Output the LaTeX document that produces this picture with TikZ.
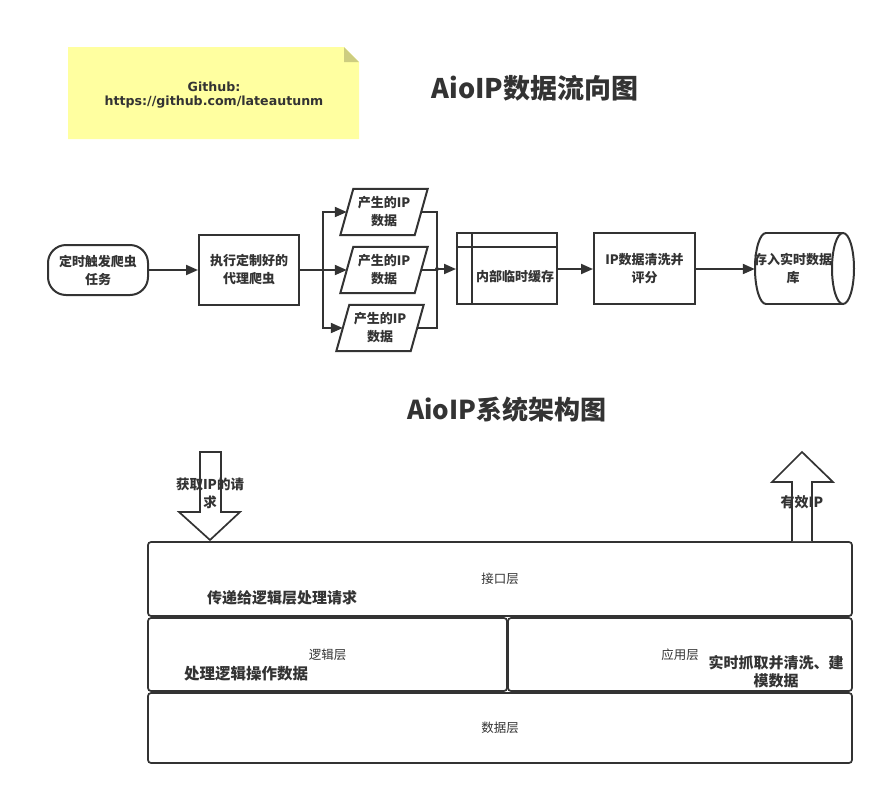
\documentclass[tikz,border=0pt]{standalone}
\usepackage{fontspec}
\setmainfont{Noto Sans CJK SC}
\newfontfamily\notefont{DejaVu Sans}
\usetikzlibrary{arrows.meta,shapes.geometric}
\definecolor{ink}{HTML}{333333}
\definecolor{notefill}{HTML}{FFFFA0}
\definecolor{notefold}{HTML}{CDCD80}
\newcommand{\fsz}[2]{\fontsize{#1}{#2}\selectfont}
\newcommand{\paraoutline}[1]{\draw[ink, line width=2pt, line join=miter] ([xshift=-6.5pt]#1.south west) -- ([xshift=-6.5pt]#1.south east) -- ([xshift=6.5pt]#1.north east) -- ([xshift=6.5pt]#1.north west) -- cycle;}
\begin{document}
\begin{tikzpicture}[x=1pt,y=-1pt,
  base/.style={draw=ink, line width=2pt, text=ink, font=\bfseries\fsz{13}{18}, align=center, inner sep=0pt},
  procbox/.style={base, rectangle, minimum width=100pt, minimum height=70pt},
  para/.style={text=ink, font=\bfseries\fsz{13}{18}, align=center, inner sep=0pt, minimum width=74pt, minimum height=46pt},
  link/.style={draw=ink, line width=2pt},
  flow/.style={link, -{Triangle[length=12pt,width=10pt]}},
  layer/.style={draw=ink, line width=1.7pt, rounded corners=3pt, text=ink, font=\fsz{12.5}{15}, inner sep=0pt},
  lbl/.style={text=ink, font=\bfseries\fsz{15}{18}, align=center, inner sep=0pt},
  title/.style={text=ink, font=\bfseries\fsz{27}{32}, inner sep=0pt},
  bigarrow/.style={draw=ink, line width=1.7pt, fill=white}
]
\useasboundingbox (0,0) rectangle (887,796);

% note
\fill[notefill] (68,47) -- (344,47) -- (359,62) -- (359,139) -- (68,139) -- cycle;
\fill[notefold] (344,47) -- (344,62) -- (359,62) -- cycle;
\node[text=ink, font=\notefont\bfseries\fsz{12.6}{14.5}, align=center, inner sep=0pt] (note) at (214,95) {Github:\\https://github.com/lateautunm};

% titles
\node[title] (t1) at (535,88) {AioIP数据流向图};
\node[title, font=\bfseries\fsz{26}{30}] (t2) at (507,410) {AioIP系统架构图};

% flow chart
\node[base, rectangle, rounded corners=18pt, minimum width=100pt, minimum height=50pt] (start) at (98,270) {定时触发爬虫\\任务};
\node[procbox] (crawl) at (249,270) {执行定制好的\\代理爬虫};
\node[para] (p1) at (384,212) {产生的IP\\数据};
\node[para] (p2) at (384,270) {产生的IP\\数据};
\node[para] (p3) at (380,328) {产生的IP\\数据};
\paraoutline{p1}
\paraoutline{p2}
\paraoutline{p3}
\node[procbox, minimum height=71pt] (cache) at (507,268.5) {};
\draw[ink, line width=2pt] ([xshift=16pt]cache.north west) -- ([xshift=16pt]cache.south west);
\draw[ink, line width=2pt] ([yshift=-15pt]cache.north west) -- ([yshift=-15pt]cache.north east);
\node[text=ink, font=\bfseries\fsz{13}{18}, inner sep=0pt] (cachetxt) at (515,277) {内部临时缓存};
\node[procbox, minimum width=101pt, minimum height=71pt] (clean) at (644.5,268.5) {IP数据清洗并\\评分};

% database cylinder
\node[minimum width=99pt, minimum height=71pt, inner sep=0pt] (db) at (804.5,268.5) {};
\draw[ink, line width=2pt] (766,233) -- (843,233);
\draw[ink, line width=2pt] (766,304) -- (843,304);
\draw[ink, line width=2pt] (766,233) arc[start angle=270, end angle=90, x radius=11, y radius=35.5];
\draw[ink, line width=2pt] (843,268.5) ellipse [x radius=11, y radius=35.5];
\node[text=ink, font=\bfseries\fsz{13}{18}, align=center, inner sep=0pt] (dbtxt) at (793,268.5) {存入实时数据\\库};

\coordinate (jl) at (323,270);
\coordinate (jr) at (437,269);

\draw[flow] (start.east) -- (crawl.west);
\draw[link] (crawl.east) -- (jl);
\draw[flow] (jl) |- (p1.west);
\draw[flow] (jl) -- (p2.west);
\draw[flow] (jl) |- (p3.west);
\draw[link] (p1.east) -| (jr);
\draw[link] (p3.east) -| (jr);
\draw[link] (p2.east) -- (p2.east -| jr);
\fill[ink] (jr) circle (2pt);
\draw[flow] (jr) -- (cache.west |- jr);
\draw[flow] (cache.east |- jr) -- (clean.west |- jr);
\draw[flow] (clean.east |- jr) -- (db.west |- jr);

% layers
\node[layer, minimum width=704pt, minimum height=74pt] (iface) at (500,579) {接口层};
\node[layer, minimum width=359pt, minimum height=73pt] (logic) at (327.5,654.5) {逻辑层};
\node[layer, minimum width=344pt, minimum height=73pt] (app) at (680,654.5) {应用层};
\node[layer, minimum width=704pt, minimum height=70pt] (data) at (500,728) {数据层};

\node[lbl] (l1) at (282,598) {传递给逻辑层处理请求};
\node[lbl, font=\bfseries\fsz{15.5}{18}] (l2) at (246,674) {处理逻辑操作数据};
\node[lbl] (l3) at (776,672) {实时抓取并清洗、建\\模数据};

% big arrows
\draw[bigarrow] (200,452) -- (221,452) -- (221,512) -- (240,512) -- (210,540) -- (179,512) -- (200,512) -- cycle;
\node[text=ink, font=\bfseries\fsz{13.5}{18}, align=center, inner sep=0pt] (req) at (210,493) {获取IP的请\\求};
\draw[bigarrow] (792,541) -- (792,482) -- (772,482) -- (802,452) -- (833,482) -- (812,482) -- (812,541);
\node[text=ink, font=\bfseries\fsz{14}{18}, inner sep=0pt] (valid) at (802,502) {有效IP};
\end{tikzpicture}
\end{document}
